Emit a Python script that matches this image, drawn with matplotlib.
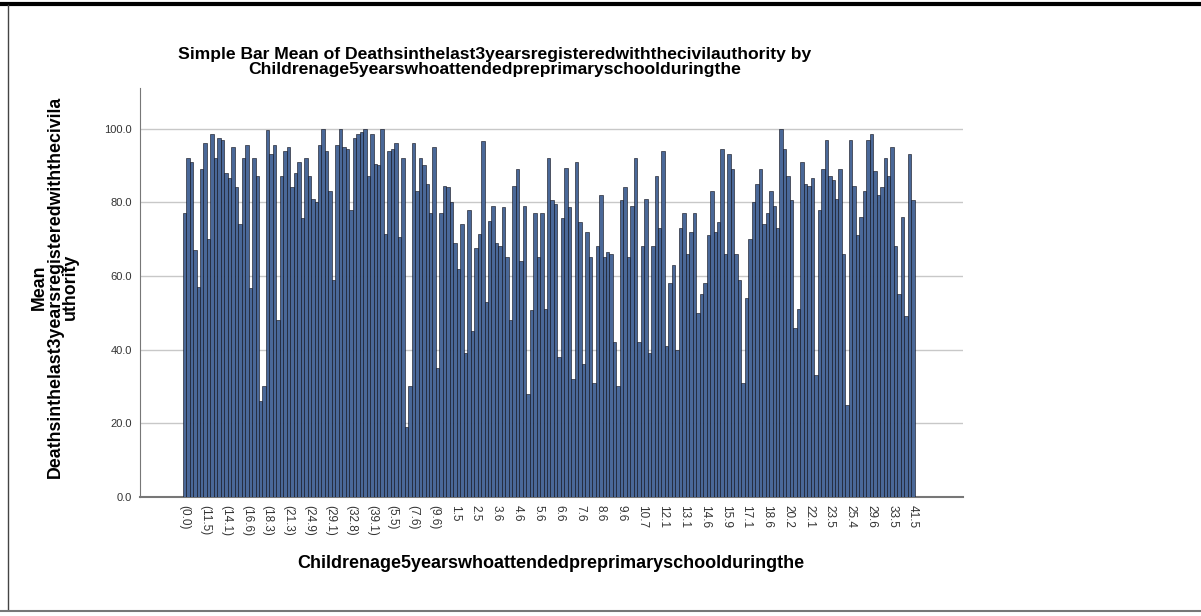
import numpy as np
import matplotlib
matplotlib.use('Agg')
from matplotlib import pyplot as plt
from matplotlib.lines import Line2D

# Средние значения по категориям (слева направо)
mean_values = [
    77, 92, 91, 67, 57, 89, 96, 70, 98.6, 92,
    97.5, 97, 88, 86.5, 95, 84, 74, 92, 95.5, 56.6,
    92, 87, 26, 30, 99.5, 93, 95.5, 48, 87, 94,
    95, 84, 88, 91, 75.6, 92, 87, 81, 80, 95.5,
    100, 94, 83, 59, 95.5, 100, 95, 94.5, 78, 97.5,
    98.6, 99, 100, 87, 98.6, 90.5, 90, 100, 71.5, 94,
    94.5, 96, 70.5, 92, 19, 30, 96, 83,
    92, 90, 85, 77, 95, 35, 77, 84.5, 84, 80,
    69, 62, 74, 39, 78, 45, 67.5, 71.5, 96.7, 53,
    75, 79, 69, 68, 78.6, 65, 48, 84.5, 89, 64,
    79, 28, 50.7, 77, 65, 77, 51, 92, 80.5, 79.6,
    38, 75.6, 89.4, 78.6, 32, 91, 74.5, 36, 72, 65,
    31, 68, 82, 65, 66.4, 66, 42, 30, 80.5, 84,
    65, 79, 92, 42, 68, 81,
    39, 68, 87, 73, 94, 41, 58, 63, 40, 73,
    77, 66, 72, 77, 50, 55, 58, 71, 83, 72,
    74.5, 94.5, 66, 93, 89, 66, 59, 31, 54, 70,
    80, 85, 89, 74, 77, 83, 79, 73, 100, 94.5,
    87, 80.5, 46, 51, 91, 85, 84.5, 86.5, 33, 78,
    89, 97, 87, 86, 81, 89, 66, 25, 97, 84.5,
    71, 76, 83, 97, 98.6, 88.6, 82, 84, 92, 87,
    95, 68, 55, 76, 49, 93, 80.5,
]

# Подписи оси x - подписана каждая шестая категория
LABEL_STEP = 6
tick_labels = ['(0.0)', '(11.5)', '(14.1)', '(16.6)', '(18.3)', '(21.3)',
               '(24.9)', '(29.1)', '(32.8)', '(39.1)', '(5.5)', '(7.6)',
               '(9.6)', '1.5', '2.5', '3.6', '4.6', '5.6', '6.6', '7.6',
               '8.6', '9.6', '10.7', '12.1', '13.1', '14.6', '15.9', '17.1',
               '18.6', '20.2', '22.1', '23.5', '25.4', '29.6', '33.5', '41.5']

y_ticks = [0, 20, 40, 60, 80, 100]

W, H = 1201, 616
plt.rcParams['font.family'] = ['Liberation Sans', 'DejaVu Sans']

fig = plt.figure(figsize=(W / 100, H / 100), dpi=100)
ax = fig.add_axes([140 / W, 1 - 497 / H, (963 - 140) / W, (497 - 88) / H])

x = np.arange(len(mean_values))
ax.bar(x, mean_values, width=1.0, color='#4a6898',
       edgecolor='#0a0a14', linewidth=0.4, zorder=3)

ax.set_xlim(-12.8, 224.4)
ax.set_ylim(0, 111)

# Сетка и оси в стиле SPSS
ax.set_yticks(y_ticks)
ax.set_yticklabels([f'{v:.1f}' for v in y_ticks], fontsize=8, color='#333333')
ax.yaxis.grid(True, color='#c8c8c8', linewidth=1, zorder=0)
ax.set_xticks(x[::LABEL_STEP])
ax.set_xticklabels(tick_labels, rotation=270, fontsize=8.5, color='#333333',
                   va='top', ha='center')
ax.tick_params(axis='x', length=0, pad=6)
ax.tick_params(axis='y', length=0, pad=6)
for side in ['top', 'right']:
    ax.spines[side].set_visible(False)
ax.spines['left'].set_color('#777777')
ax.spines['bottom'].set_color('#777777')
ax.spines['bottom'].set_linewidth(1.5)

# Заголовок и подписи осей
fig.text(495 / W, 1 - 62 / H,
         'Simple Bar Mean of Deathsinthelast3yearsregisteredwiththecivilauthority by\n'
         'Childrenage5yearswhoattendedpreprimaryschoolduringthe',
         ha='center', va='center', fontsize=12.6, fontweight='bold',
         linespacing=1.0)
fig.text(55 / W, 1 - 287 / H,
         'Mean\nDeathsinthelast3yearsregisteredwiththecivila\nuthority',
         ha='center', va='center', rotation=90, fontsize=12.8,
         fontweight='bold', linespacing=0.9)
fig.text(551 / W, 1 - 563 / H,
         'Childrenage5yearswhoattendedpreprimaryschoolduringthe',
         ha='center', va='center', fontsize=13, fontweight='bold')

# Рамка вокруг картинки
fig.add_artist(Line2D([0, 1], [1 - 4 / H, 1 - 4 / H], color='black', linewidth=3))
fig.add_artist(Line2D([8 / W, 8 / W], [1 - 610 / H, 1 - 5 / H], color='#444444', linewidth=1))
fig.add_artist(Line2D([0, 1], [1 - 611 / H, 1 - 611 / H], color='#777777', linewidth=1.5))

plt.savefig('out.png', dpi=100)
